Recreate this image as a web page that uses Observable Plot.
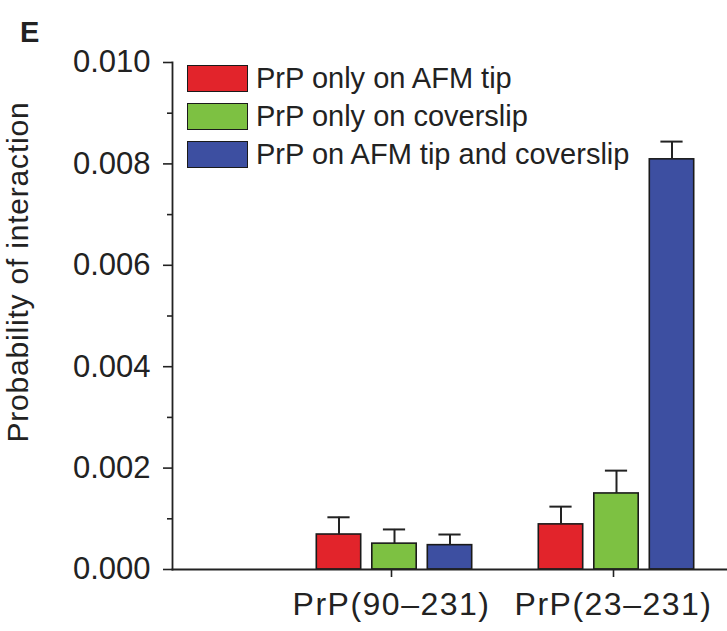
<!DOCTYPE html>
<html>
<head>
<meta charset="utf-8">
<script src="https://cdn.jsdelivr.net/npm/d3@7"></script>
<script src="https://cdn.jsdelivr.net/npm/@observablehq/plot@0.6"></script>
<style>
  html, body { margin: 0; padding: 0; background: #fff; }
  #wrap { position: relative; width: 727px; height: 631px; font-family: "Liberation Sans", Arial, sans-serif; color: #222; }
  #panel { position: absolute; left: 20px; top: 18px; font-size: 29px; font-weight: bold; line-height: 29px; }
  #ylabel { position: absolute; left: 18px; top: 272px; transform: translate(-50%, -50%) rotate(-90deg);
    font-size: 30px; line-height: 30px; letter-spacing: 0.8px; white-space: nowrap; }
  #legend { position: absolute; left: 187px; top: 65px; }
  .row { display: flex; align-items: center; height: 27px; margin-bottom: 11px; }
  .sw { width: 61px; height: 27px; box-sizing: border-box; border: 1.5px solid #1a1a1a; }
  .lab { margin-left: 8px; font-size: 29px; line-height: 27px; white-space: nowrap; }
  g[aria-label="x-axis tick label"] text { letter-spacing: 1.5px; }
</style>
</head>
<body>
<div id="wrap">
  <div id="chart"></div>
  <div id="panel">E</div>
  <div id="ylabel"></div>
  <div id="legend"></div>
</div>
<script>
const groups = ["PrP(90–231)", "PrP(23–231)"];
const series = ["PrP only on AFM tip", "PrP only on coverslip", "PrP on AFM tip and coverslip"];
const colors = ["#e2242b", "#7dc142", "#3d4fa1"];
const meanG1 = [0.00069, 0.00051, 0.00048];
const meanG2 = [0.00089, 0.00150, 0.00809];
const errG1 = [0.00034, 0.00028, 0.00021];
const errG2 = [0.00035, 0.00045, 0.00035];
const yTicks = [0, 0.002, 0.004, 0.006, 0.008, 0.010];
const yMinorTicks = [0.001, 0.003, 0.005, 0.007, 0.009];
const yLabel = "Probability of interaction";

// layout of the grouped bars on a linear x scale (group k sits at x = k + 1)
const barStep = 0.25, barHalf = 0.1, capHalf = 0.05;
const means = [meanG1, meanG2];
const errs = [errG1, errG2];
const rows = [];
groups.forEach((g, gi) => series.forEach((s, si) => {
  rows.push({group: g, series: s, x: gi + 1 + (si - 1) * barStep,
    mean: means[gi][si], top: means[gi][si] + errs[gi][si]});
}));

const ink = "#222";
const chart = Plot.plot({
  width: 727,
  height: 631,
  marginLeft: 172,
  marginRight: 0,
  marginTop: 62,
  marginBottom: 62,
  style: {fontFamily: "'Liberation Sans', Arial, sans-serif", color: ink, background: "white", overflow: "visible"},
  x: {domain: [0, 2.5], axis: null, label: null},
  y: {domain: [0, 0.01], axis: null, label: null},
  color: {domain: series, range: colors},
  marks: [
    Plot.rectY(rows, {x1: d => d.x - barHalf, x2: d => d.x + barHalf, y1: 0, y2: "mean",
      fill: "series", stroke: "#1a1a1a", strokeWidth: 1.6}),
    Plot.ruleX(rows, {x: "x", y1: "mean", y2: "top", stroke: ink, strokeWidth: 2}),
    Plot.ruleY(rows, {y: "top", x1: d => d.x - capHalf, x2: d => d.x + capHalf, stroke: ink, strokeWidth: 2}),
    Plot.frame({anchor: "left", stroke: ink, strokeWidth: 1.8}),
    Plot.frame({anchor: "bottom", stroke: ink, strokeWidth: 1.8}),
    Plot.axisY({ticks: yTicks, tickFormat: d3.format(".3f"), tickSize: 9, tickPadding: 13, fontSize: 31,
      strokeWidth: 1.6, label: null}),
    Plot.axisY({ticks: yMinorTicks, tickSize: 5, text: null, strokeWidth: 1.6, label: null}),
    Plot.axisX({ticks: groups.map((g, i) => i + 1), tickFormat: v => groups[v - 1],
      tickSize: 8, tickPadding: 15, fontSize: 32, strokeWidth: 1.6, label: null, dx: -3})
  ]
});
document.getElementById("chart").appendChild(chart);

document.getElementById("ylabel").textContent = yLabel;

const legend = d3.select("#legend");
series.forEach((s, i) => {
  const r = legend.append("div").attr("class", "row");
  r.append("div").attr("class", "sw").style("background", colors[i]);
  r.append("div").attr("class", "lab").text(s);
});
</script>
</body>
</html>
